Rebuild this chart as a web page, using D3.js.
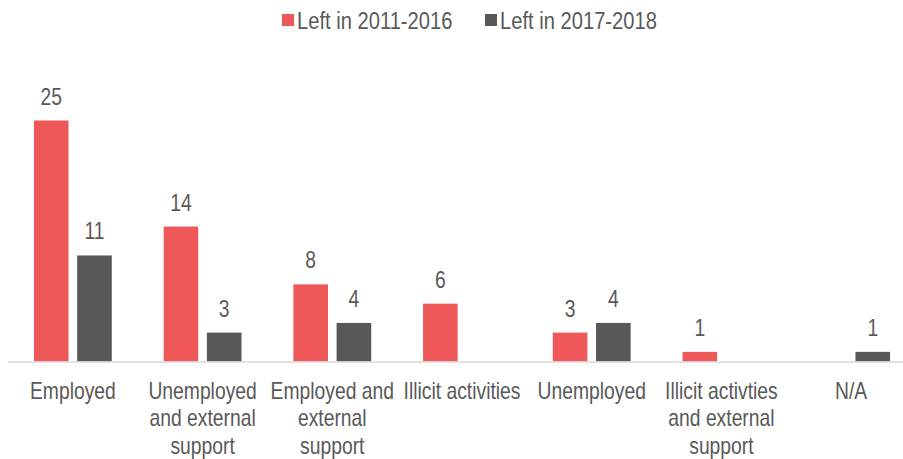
<!DOCTYPE html>
<html><head><meta charset="utf-8">
<script src="https://cdn.jsdelivr.net/npm/d3@7"></script>
<style>
body{margin:0;background:#fff;}
text{font-family:"Liberation Sans",Arial,sans-serif;fill:#595959;}
</style></head>
<body><svg id="chart" width="903" height="459"></svg>
<script>
const categories = ["Employed","Unemployed and external support","Employed and external support","Illicit activities","Unemployed","Illicit activties and external support","N/A"];
const seriesNames = ["Left in 2011-2016","Left in 2017-2018"];
const left2011_2016 = [25,14,8,6,3,1,null];
const left2017_2018 = [11,3,4,null,4,null,1];
const colors = ["#EE5858","#58585A"];

const SX = 0.84; // horizontal condensation of text
const svg = d3.select("#chart");
const baseY = 361.5;
const x = d3.scaleBand().domain(categories).range([8,916]).paddingInner(0.4).paddingOuter(0.2);
const xs = d3.scaleBand().domain(seriesNames).range([0,x.bandwidth()]).paddingInner(0.2);
const y = d3.scaleLinear().domain([0,25]).range([baseY,120.5]);

function ctext(parent, cx, cy, size, anchor){
  return parent.append("g").attr("transform",`translate(${cx},${cy}) scale(${SX},1)`)
    .append("text").attr("x",0).attr("y",0).attr("text-anchor",anchor).style("font-size",size+"px");
}

const series = [left2011_2016,left2017_2018];
series.forEach((vals,si)=>{
  const g = svg.append("g");
  const data = categories.map((c,i)=>({c,v:vals[i]})).filter(d=>d.v!=null);
  g.selectAll("rect").data(data).join("rect")
    .attr("x",d=>x(d.c)+xs(seriesNames[si]))
    .attr("y",d=>y(d.v))
    .attr("width",xs.bandwidth())
    .attr("height",d=>baseY-y(d.v))
    .attr("fill",colors[si]);
  data.forEach(d=>{
    ctext(g, x(d.c)+xs(seriesNames[si])+xs.bandwidth()/2, y(d.v)-16, 23, "middle").text(d.v);
  });
});

svg.append("line").attr("x1",8).attr("x2",903).attr("y1",baseY+0.5).attr("y2",baseY+0.5)
  .attr("stroke","#D9D9D9").attr("stroke-width",1.5);

// category labels with wrapping
const maxW = x.step()-2;
categories.forEach(c=>{
  const t = ctext(svg, x(c)+x.bandwidth()/2, 399, 23, "middle");
  const words = c.split(" ");
  let line = [];
  let ts = t.append("tspan").attr("x",0).attr("dy",0);
  words.forEach(w=>{
    line.push(w);
    ts.text(line.join(" "));
    if(ts.node().getComputedTextLength()*SX>maxW && line.length>1){
      line.pop(); ts.text(line.join(" "));
      line=[w];
      ts = t.append("tspan").attr("x",0).attr("dy","27.5px").text(w);
    }
  });
});

// legend
const leg = svg.append("g");
const legX = [282,485];
seriesNames.forEach((s,i)=>{
  leg.append("rect").attr("x",legX[i]).attr("y",14).attr("width",12).attr("height",12).attr("fill",colors[i]);
  ctext(leg, legX[i]+15, 28.5, 24, "start").text(s);
});
</script></body></html>
